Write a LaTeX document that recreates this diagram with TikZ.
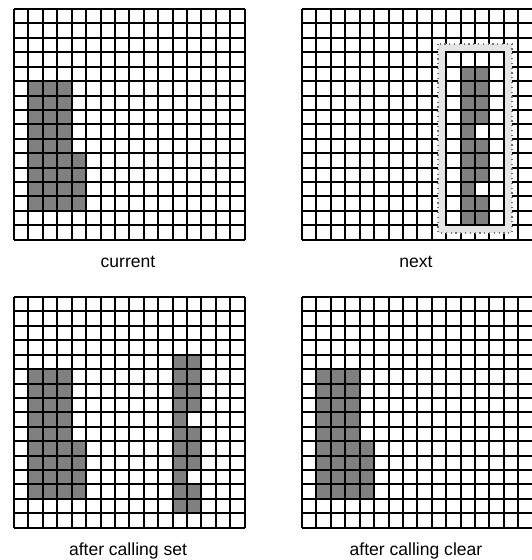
\documentclass[tikz,border=0pt]{standalone}
\usepackage{fontspec}
\setmainfont{Liberation Sans}
\tikzset{
  declare function={g(\t)=round(\t*14.42);},
  cellfill/.style={fill=black!50},
  gridline/.style={draw=black, line width=1.7bp},
  lbl/.style={font=\fontsize{17.6}{21}\selectfont, inner sep=0pt, anchor=base},
  bandline/.style={draw=black!10, line width=7bp},
  dotline/.style={draw=black!55, line width=1.2bp, dash pattern=on 1.2bp off 3.6bp},
}
\newcommand{\drawmygrid}{%
  \foreach \i in {0,...,16} {
    \draw[gridline] ({g(\i)},0) -- ({g(\i)},{g(16)});
    \draw[gridline] (0,{g(\i)}) -- ({g(16)},{g(\i)});
  }%
}
\newcommand{\mycell}[4]{\fill[cellfill] ({g(#1)},{g(#2)}) rectangle ({g(#3)},{g(#4)});}
\newcommand{\mylshape}{%
  \mycell{1}{5}{4}{14}
  \mycell{4}{10}{5}{14}
}
\newcommand{\mybarshape}{%
  \mycell{11}{4}{12}{15}
  \mycell{12}{4}{13}{8}
  \mycell{12}{9}{13}{12}
  \mycell{12}{13}{13}{15}
}
\begin{document}
\begin{tikzpicture}[x=1bp, y=-1bp]
\useasboundingbox (0,0) rectangle (532,560);
\fill[white] (0,0) rectangle (532,560);
% grid 1: current
\begin{scope}[shift={(14,9)}]
  \mylshape
  \drawmygrid
\end{scope}
% grid 2: next
\begin{scope}[shift={(302,9)}]
  \mybarshape
  \drawmygrid
  \draw[bandline] ({g(10)-4.2},{g(3)-4.2}) rectangle ({g(14)+4.2},{g(15)+4.2});
  \draw[dotline] ({g(10)-8},{g(3)-8}) rectangle ({g(14)+8},{g(15)+8});
  \draw[gridline] ({g(10)},{g(3)}) rectangle ({g(14)},{g(15)});
\end{scope}
% grid 3: after calling set
\begin{scope}[shift={(14,297)}]
  \mylshape
  \mybarshape
  \drawmygrid
\end{scope}
% grid 4: after calling clear
\begin{scope}[shift={(302,297)}]
  \mylshape
  \drawmygrid
\end{scope}
\node[lbl] (lcur) at (128,267) {current};
\node[lbl] (lnext) at (416,267) {next};
\node[lbl] (lset) at (128,555) {after calling set};
\node[lbl] (lclr) at (416,555) {after calling clear};
\end{tikzpicture}
\end{document}
